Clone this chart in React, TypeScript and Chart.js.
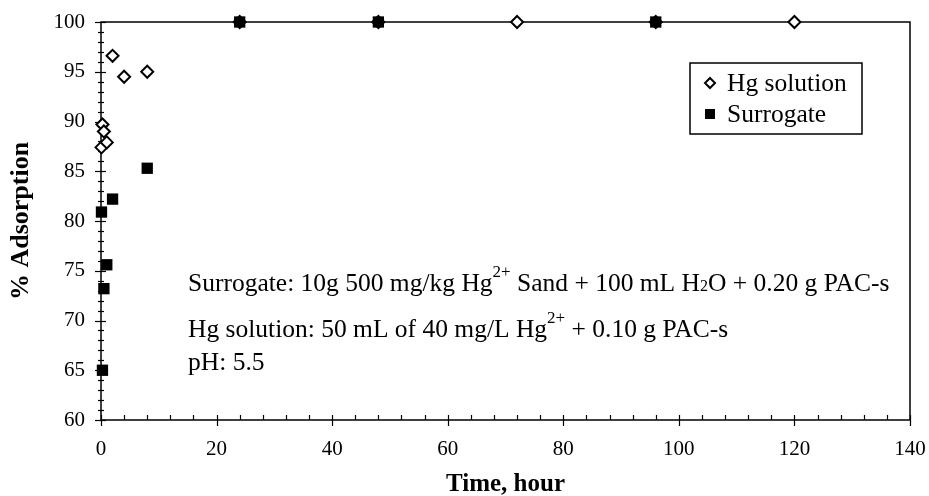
import React, { useEffect, useRef } from "react";
import { Chart, registerables } from "chart.js";

Chart.register(...registerables);

// ---- Data ----
const hgTimes = [0.083, 0.25, 0.5, 1, 2, 4, 8, 24, 48, 72, 96, 120];
const hgValues = [87.4, 89.7, 89.0, 87.9, 96.6, 94.5, 95.0, 100, 100, 100, 100, 100];
const surTimes = [0.083, 0.25, 0.5, 1, 2, 8, 24, 48, 96];
const surValues = [80.9, 65.0, 73.2, 75.6, 82.2, 85.3, 100, 100, 100];

const seriesLabels = ["Hg solution", "Surrogate"];
const xTitle = "Time, hour";
const yTitle = "% Adsorption";
const xRange = [0, 140];
const yRange = [60, 100];

const noteLines: { t: string; mode?: "sup" | "sub" }[][] = [
  [
    { t: "Surrogate: 10g 500 mg/kg Hg" },
    { t: "2+", mode: "sup" },
    { t: " Sand + 100 mL H" },
    { t: "2", mode: "sub" },
    { t: "O + 0.20 g PAC-s" },
  ],
  [
    { t: "Hg solution: 50 mL of 40 mg/L Hg" },
    { t: "2+", mode: "sup" },
    { t: " + 0.10 g PAC-s" },
  ],
  [{ t: "pH: 5.5" }],
];

const SERIF = "'Liberation Serif', 'Times New Roman', serif";

const framePlugin = {
  id: "frame",
  beforeDatasetsDraw(chart: any) {
    const { ctx, chartArea: a, scales } = chart;
    const xs = scales.x;
    const ys = scales.y;
    ctx.save();
    ctx.strokeStyle = "#000";
    ctx.lineWidth = 1.5;
    ctx.beginPath();
    ctx.rect(a.left, a.top, a.right - a.left, a.bottom - a.top);
    ctx.stroke();
    ctx.lineWidth = 1.2;
    for (let v = yRange[0]; v <= yRange[1]; v += 1) {
      const y = Math.round(ys.getPixelForValue(v)) + 0.5;
      const major = v % 5 === 0;
      const l = major ? 6 : 3;
      ctx.beginPath();
      ctx.moveTo(a.left - l, y);
      ctx.lineTo(a.left + (major ? 5 : 3), y);
      ctx.stroke();
    }
    for (let v = xRange[0]; v <= xRange[1]; v += 4) {
      const x = Math.round(xs.getPixelForValue(v)) + 0.5;
      const major = v % 20 === 0;
      ctx.beginPath();
      ctx.moveTo(x, a.bottom - 5);
      ctx.lineTo(x, a.bottom + (major ? 6 : 0));
      ctx.stroke();
    }
    ctx.restore();
  },
};

const overlayPlugin = {
  id: "overlay",
  afterDraw(chart: any) {
    const { ctx } = chart;
    ctx.save();
    const lx = 690, ly = 63, lw = 172, lh = 71;
    ctx.strokeStyle = "#000";
    ctx.lineWidth = 1.5;
    ctx.fillStyle = "#fff";
    ctx.fillRect(lx, ly, lw, lh);
    ctx.strokeRect(lx, ly, lw, lh);
    ctx.font = `25.5px ${SERIF}`;
    ctx.textBaseline = "middle";
    ctx.textAlign = "left";
    const rows = [83, 114];
    const dx = 710;
    ctx.beginPath();
    ctx.moveTo(dx, rows[0] - 5);
    ctx.lineTo(dx + 5, rows[0]);
    ctx.lineTo(dx, rows[0] + 5);
    ctx.lineTo(dx - 5, rows[0]);
    ctx.closePath();
    ctx.fillStyle = "#fff";
    ctx.fill();
    ctx.lineWidth = 2;
    ctx.stroke();
    ctx.fillStyle = "#000";
    ctx.fillRect(dx - 5, rows[1] - 5, 10, 10);
    ctx.fillText(seriesLabels[0], 727, rows[0] + 1);
    ctx.fillText(seriesLabels[1], 727, rows[1] + 1);

    const base = 25.5;
    const starts = [[188, 291], [188, 337], [188, 370]];
    noteLines.forEach((line, i) => {
      let x = starts[i][0];
      const y = starts[i][1];
      ctx.textBaseline = "alphabetic";
      line.forEach((seg) => {
        let size = base;
        let dy = 0;
        if (seg.mode === "sup") { size = 17; dy = -14; }
        if (seg.mode === "sub") { size = 16; dy = 0; }
        ctx.font = `${size}px ${SERIF}`;
        ctx.fillText(seg.t, x, y + dy);
        x += ctx.measureText(seg.t).width;
      });
    });
    ctx.restore();
  },
};

export default function App() {
  const ref = useRef<HTMLCanvasElement | null>(null);
  useEffect(() => {
    document.body.style.margin = "0";
    if (!ref.current) return;
    const chart = new Chart(ref.current, {
      type: "scatter",
      data: {
        datasets: [
          {
            label: seriesLabels[0],
            data: hgTimes.map((t, i) => ({ x: t, y: hgValues[i] })),
            pointStyle: "rectRot",
            pointRadius: 6,
            pointBackgroundColor: "#fff",
            pointBorderColor: "#000",
            pointBorderWidth: 2,
            clip: false,
            order: 1,
          },
          {
            label: seriesLabels[1],
            data: surTimes.map((t, i) => ({ x: t, y: surValues[i] })),
            pointStyle: "rect",
            pointRadius: 8,
            pointBackgroundColor: "#000",
            pointBorderColor: "#000",
            pointBorderWidth: 0,
            clip: false,
            order: 0,
          },
        ],
      },
      options: {
        animation: false,
        responsive: false,
        maintainAspectRatio: false,
        layout: { padding: { top: 22, right: 19, left: 0, bottom: 0 } },
        plugins: { legend: { display: false }, tooltip: { enabled: false } },
        scales: {
          x: {
            type: "linear",
            min: xRange[0],
            max: xRange[1],
            grid: { display: false, drawTicks: false },
            border: { display: false },
            ticks: {
              stepSize: 20,
              padding: 17,
              color: "#000",
              font: { family: SERIF, size: 21 },
            },
            title: {
              display: true,
              text: xTitle,
              color: "#000",
              font: { family: SERIF, size: 25, weight: "bold" },
              padding: { top: 0, bottom: -4 },
            },
            afterFit: (s: any) => {
              s.height = 76;
              s.paddingLeft = 0;
              s.paddingRight = 0;
            },
          },
          y: {
            type: "linear",
            min: yRange[0],
            max: yRange[1],
            grid: { display: false, drawTicks: false },
            border: { display: false },
            ticks: {
              stepSize: 5,
              padding: 16,
              color: "#000",
              font: { family: SERIF, size: 21 },
            },
            title: {
              display: true,
              text: yTitle,
              color: "#000",
              font: { family: SERIF, size: 26, weight: "bold" },
              padding: { top: 6, bottom: 0 },
            },
            afterFit: (s: any) => {
              s.width = 101;
              s.paddingTop = 0;
              s.paddingBottom = 0;
            },
          },
        },
      },
      plugins: [framePlugin, overlayPlugin],
    });
    return () => chart.destroy();
  }, []);
  return (
    <div style={{ width: 929, height: 496 }}>
      <canvas ref={ref} width={929} height={496} style={{ display: "block" }} />
    </div>
  );
}
